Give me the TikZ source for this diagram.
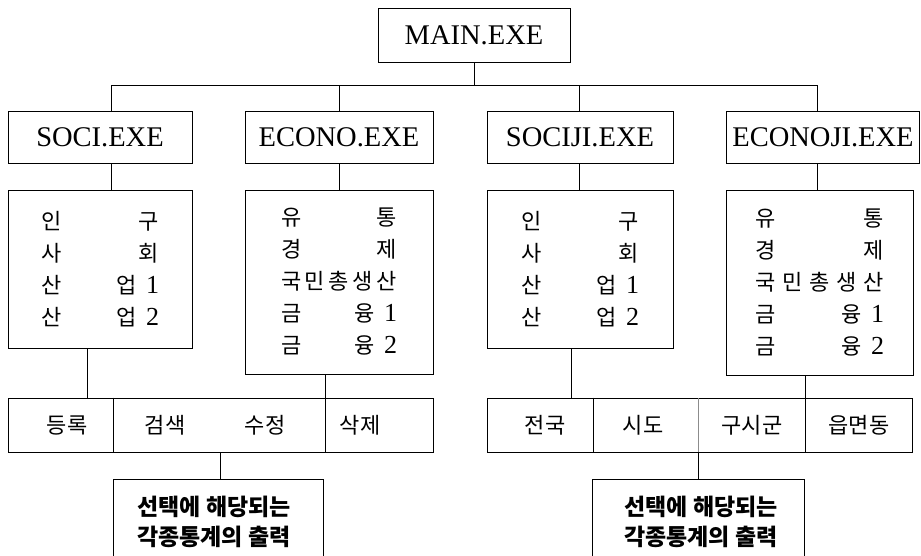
\documentclass[tikz,border=0pt]{standalone}
\usepackage{fontspec}
\setmainfont{Liberation Serif}
\newfontfamily\kr{Noto Sans CJK KR}
\begin{document}
\begin{tikzpicture}[x=1pt,y=-1pt,
  line width=0.9pt,
  exebox/.style={draw, minimum height=52pt, inner sep=0pt, font=\fontsize{28.5}{30}\selectfont},
  listbox/.style={draw, inner sep=0pt, align=center, font=\kr\fontsize{22}{32}\selectfont},
  rowbox/.style={draw, minimum width=425pt, minimum height=54pt, inner sep=0pt},
  celltext/.style={inner sep=0pt, font=\kr\fontsize{22}{24}\selectfont},
  outbox/.style={draw, inner sep=0pt, minimum height=172pt},
  outtext/.style={inner sep=0pt, align=center, font=\kr\bfseries\fontsize{23}{30}\selectfont}]
\useasboundingbox (0,0) rectangle (921,555);
% top
\node[exebox, minimum width=192pt, minimum height=54pt] (main) at (474,35) {MAIN.EXE};
% level 2
\node[exebox, minimum width=184pt] (soci) at (100,137) {SOCI.EXE};
\node[exebox, minimum width=188pt] (econo) at (339,137) {ECONO.EXE};
\node[exebox, minimum width=186pt] (sociji) at (580,137) {SOCIJI.EXE};
\node[exebox, minimum width=193pt] (econoji) at (823,137) {ECONOJI.EXE};
% content boxes
\newcommand{\rw}[3]{\makebox[#1pt]{#2\hfill #3}}
\newcommand{\dg}[1]{\hspace{9pt}{\rmfamily\fontsize{26}{32}\selectfont #1}}
\node[listbox, minimum width=184pt, minimum height=158pt] (sc) at (100,269) {%
  \rw{118}{인}{구}\\ \rw{118}{사}{회}\\ \rw{118}{산}{업\dg{1}}\\ \rw{118}{산}{업\dg{2}}};
\node[listbox, minimum width=188pt, minimum height=184pt] (ec) at (339,282) {%
  \rw{116}{유}{통}\\ \rw{116}{경}{제}\\ \makebox[116pt]{국\hfill 민\hfill 총\hfill 생\hfill 산}\\
  \rw{116}{금}{융\dg{1}}\\ \rw{116}{금}{융\dg{2}}};
\node[listbox, minimum width=186pt, minimum height=158pt] (sjc) at (580,269) {%
  \rw{118}{인}{구}\\ \rw{118}{사}{회}\\ \rw{118}{산}{업\dg{1}}\\ \rw{118}{산}{업\dg{2}}};
\node[listbox, minimum width=187pt, minimum height=185pt] (ejc) at (819.5,282.5) {%
  \rw{129}{유}{통}\\ \rw{129}{경}{제}\\ \makebox[129pt]{국\hfill 민\hfill 총\hfill 생\hfill 산}\\
  \rw{129}{금}{융\dg{1}}\\ \rw{129}{금}{융\dg{2}}};
% bottom rows
\node[rowbox] (lrow) at (220.5,425) {};
\node[rowbox] (rrow) at (699.5,425) {};
\coordinate (d1) at (113,0);
\coordinate (d2) at (325,0);
\coordinate (d3) at (593,0);
\coordinate (d4) at (698,0);
\coordinate (d5) at (805,0);
\draw (lrow.north -| d1) -- (lrow.south -| d1);
\draw (lrow.north -| d2) -- (lrow.south -| d2);
\draw (rrow.north -| d3) -- (rrow.south -| d3);
\draw[black!45] (rrow.north -| d4) -- (rrow.south -| d4);
\draw (rrow.north -| d5) -- (rrow.south -| d5);
\node[celltext] (t1) at (67,425) {등록};
\node[celltext] (t2) at (165,425) {검색};
\node[celltext] (t3) at (265,425) {수정};
\node[celltext] (t4) at (360,425) {삭제};
\node[celltext] (t5) at (545,425) {전국};
\node[celltext] (t6) at (643,425) {시도};
\node[celltext] (t7) at (752,425) {구시군};
\node[celltext] (t8) at (859,425) {읍면동};
% output boxes
\node[outbox, minimum width=210pt] (out1) at (218,565) {};
\node[outbox, minimum width=212pt] (out2) at (698,565) {};
\node[outtext] (o1) at (214,522) {선택에 해당되는\\각종통계의 출력};
\node[outtext] (o2) at (701,522) {선택에 해당되는\\각종통계의 출력};
% connectors
\draw (main.south) -- ++(0,24);
\draw ([xshift=11pt]soci.north) -- ++(0,-25) -| ([xshift=-6pt]econoji.north);
\draw (econo.north) -- ++(0,-25);
\draw ([xshift=-1pt]sociji.north) -- ++(0,-25);
\draw ([xshift=11pt]soci.south) -- ([xshift=11pt]soci.south |- sc.north);
\draw (econo.south) -- (econo.south |- ec.north);
\draw ([xshift=-1pt]sociji.south) -- ([xshift=-1pt]sociji.south |- sjc.north);
\draw ([xshift=-6pt]econoji.south) -- ([xshift=-6pt]econoji.south |- ejc.north);
\draw ([xshift=-13pt]sc.south) -- ([xshift=-13pt]sc.south |- lrow.north);
\draw ([xshift=-14pt]ec.south) -- ([xshift=-14pt]ec.south |- lrow.north);
\draw ([xshift=-9pt]sjc.south) -- ([xshift=-9pt]sjc.south |- rrow.north);
\draw ([xshift=-14pt]ejc.south) -- ([xshift=-14pt]ejc.south |- rrow.north);
\draw (lrow.south) -- (lrow.south |- out1.north);
\draw ([xshift=-1.5pt]rrow.south) -- ([xshift=-1.5pt]rrow.south |- out2.north);
\end{tikzpicture}
\end{document}
